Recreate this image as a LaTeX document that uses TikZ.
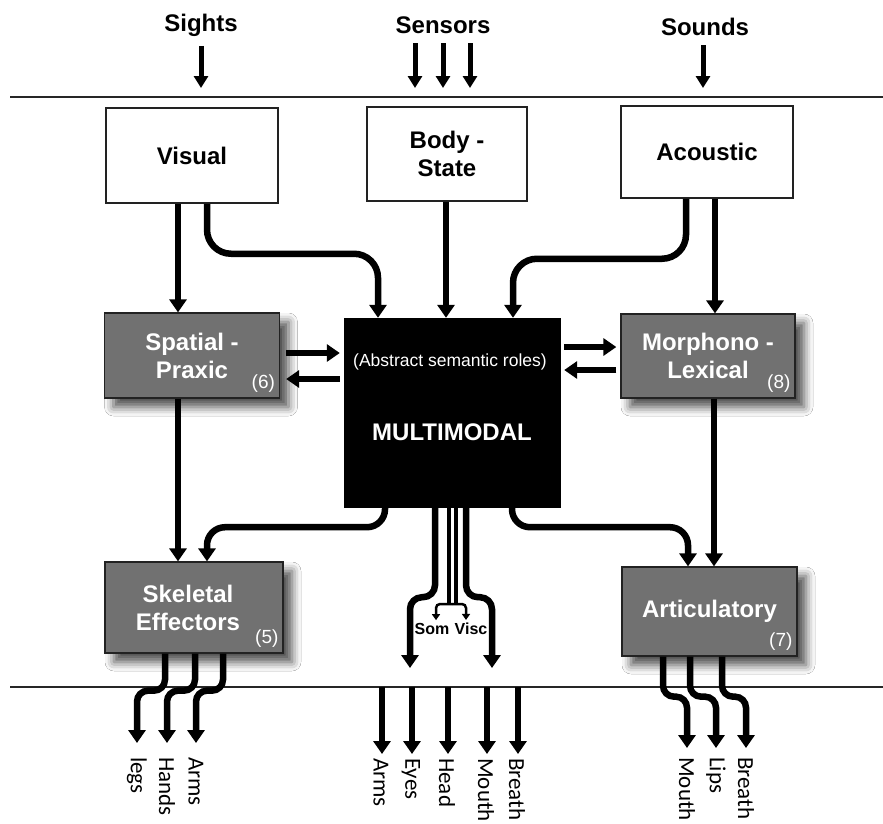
\documentclass[tikz,border=0pt]{standalone}
\usepackage{fontspec}
\setmainfont{Liberation Sans}
\newfontfamily\carl{Carlito}
\usetikzlibrary{arrows.meta,shadows.blur}
\definecolor{gfill}{HTML}{717171}
\definecolor{edge}{HTML}{222222}
\begin{document}
\begin{tikzpicture}[x=1pt,y=-1pt,
  lab/.style={font=\bfseries\fontsize{24}{28}\selectfont},
  wbox/.style={draw=edge, line width=1.5pt, fill=white, align=center, inner sep=0pt, font=\bfseries\fontsize{24}{28}\selectfont},
  gbox/.style={draw=edge, line width=1.3pt, fill=gfill, text=white, align=center, inner sep=0pt, font=\bfseries\fontsize{24}{28}\selectfont, blur shadow={shadow xshift=9pt, shadow yshift=-9pt, shadow blur radius=9pt, shadow opacity=70}},
  num/.style={text=white, font=\fontsize{19}{21}\selectfont, inner sep=0pt, anchor=south east},
  arr/.style={line width=6.5pt, -{Triangle[width=17pt,length=13pt]}},
  inarr/.style={line width=5pt, -{Triangle[width=14pt,length=12pt]}},
  brk/.style={line width=2.5pt, rounded corners=4pt, -{Triangle[width=8pt,length=6pt]}},
  outlab/.style={font=\carl\fontsize{23}{25}\selectfont, rotate=-90, anchor=west, inner sep=2pt},
  rule/.style={line width=1.8pt, draw=black!85}
]
\fill[white] (0,0) rectangle (883,823);
\useasboundingbox (0,0) rectangle (883,823);

% rules
\coordinate (rl1) at (10,97); \coordinate (rr1) at (883,97);
\coordinate (rl2) at (10,687); \coordinate (rr2) at (883,687);
\draw[rule] (rl1) -- (rr1);
\draw[rule] (rl2) -- (rr2);

% top labels and inputs
\node[lab] (sights) at (201,25) {Sights};
\node[lab] (sensors) at (443,25) {Sensors};
\node[lab] (sounds) at (705,27) {Sounds};
\coordinate (tsi) at (201,88);
\coordinate (tse1) at (415,88);
\coordinate (tse2) at (443,88);
\coordinate (tse3) at (470,88);
\coordinate (tso) at (703,88);
\draw[inarr, shorten <=6pt] (sights.south -| tsi) -- (tsi);
\draw[inarr, shorten <=6pt] (sensors.south -| tse1) -- (tse1);
\draw[inarr, shorten <=6pt] (sensors.south -| tse2) -- (tse2);
\draw[inarr, shorten <=6pt] (sensors.south -| tse3) -- (tse3);
\draw[inarr, shorten <=6pt] (sounds.south -| tso) -- (tso);

% boxes
\node[wbox, minimum width=172pt, minimum height=95pt] (vis) at (192,155.5) {Visual};
\node[wbox, minimum width=160pt, minimum height=94pt] (body) at (447,154) {Body -\\State};
\node[wbox, minimum width=172pt, minimum height=92pt] (acou) at (707,152) {Acoustic};
\node[gbox, minimum width=175pt, minimum height=85pt] (spat) at (192,355.5) {Spatial -\\Praxic};
\node[gbox, minimum width=174pt, minimum height=84pt] (morph) at (708,356) {Morphono -\\Lexical};
\node[gbox, minimum width=178pt, minimum height=91pt] (skel) at (194,607.5) {\hspace*{-12pt}Skeletal\\\hspace*{-12pt}Effectors};
\node[gbox, minimum width=175pt, minimum height=89pt] (artic) at (709.5,611.5) {Articulatory};
\node[draw=black, fill=black, minimum width=216pt, minimum height=189pt, inner sep=0pt] (multi) at (452,412.5) {};
\node[text=white, font=\fontsize{17.5}{20}\selectfont] (absr) at (450,362) {(Abstract semantic roles)};
\node[text=white, font=\bfseries\fontsize{24}{28}\selectfont] (mm) at (452,432) {MULTIMODAL};

\node[num] (n6) at ([xshift=-5pt,yshift=6pt]spat.south east) {(6)};
\node[num] (n8) at ([xshift=-5pt,yshift=6pt]morph.south east) {(8)};
\node[num] (n5) at ([xshift=-5pt,yshift=6pt]skel.south east) {(5)};
\node[num] (n7) at ([xshift=-5pt,yshift=6pt]artic.south east) {(7)};

% upper connectors
\draw[arr] ([xshift=-14pt]vis.south) -- ([xshift=-14pt]spat.north);
\draw[arr, rounded corners=24pt] ([xshift=15pt]vis.south) -- ++(0,50) -| ([xshift=-74pt]multi.north);
\draw[arr] ([xshift=-1pt]body.south) -- ([xshift=-6pt]multi.north);
\draw[arr, rounded corners=24pt] ([xshift=-21pt]acou.south) -- ++(0,60) -| ([xshift=61pt]multi.north);
\draw[arr] ([xshift=8pt]acou.south) -- ([xshift=7pt]morph.north);

% side arrows
\draw[arr, shorten <=6pt, shorten >=4pt] ([yshift=2.5pt]spat.east) -- ([yshift=2.5pt]spat.east -| multi.west);
\draw[arr, shorten <=4pt, shorten >=6pt] ([yshift=-23.5pt]spat.east -| multi.west) -- ([yshift=-23.5pt]spat.east);
\draw[arr, shorten <=4pt, shorten >=4pt] ([yshift=9pt]morph.west -| multi.east) -- ([yshift=9pt]morph.west);
\draw[arr, shorten <=4pt, shorten >=4pt] ([yshift=-14pt]morph.west) -- ([yshift=-14pt]morph.west -| multi.east);

% lower connectors
\draw[arr] ([xshift=-14pt]spat.south) -- ([xshift=-16pt]skel.north);
\draw[arr, rounded corners=18pt] ([xshift=-67pt]multi.south) -- ++(0,20) -| ([xshift=13pt]skel.north);
\draw[arr, rounded corners=18pt] ([xshift=60pt]multi.south) -- ++(0,20) -| ([xshift=-21.5pt]artic.north);
\draw[arr] ([xshift=6pt]morph.south) -- ([xshift=4.5pt]artic.north);

% multimodal outputs
\coordinate (mo1) at (410,668);
\coordinate (mo2) at (492,668);
\draw[arr, rounded corners=12pt] ([xshift=-17pt]multi.south) -- ++(0,90) -| (mo1);
\draw[arr, rounded corners=12pt] ([xshift=14pt]multi.south) -- ++(0,90) -| (mo2);
\coordinate (br) at (452,604);
\node[font=\bfseries\fontsize{16}{18}\selectfont, inner sep=1pt] (som) at (432,629) {Som};
\node[font=\bfseries\fontsize{16}{18}\selectfont, inner sep=1pt] (visc) at (471,629) {Visc};
\draw[line width=4pt] ([xshift=-3.5pt]multi.south) -- ([xshift=-3.5pt]multi.south |- br);
\draw[line width=4pt] ([xshift=3.5pt]multi.south) -- ([xshift=3.5pt]multi.south |- br);
\draw[brk] (br) -| ([xshift=4pt,yshift=2pt]som.north);
\draw[brk] (br) -| ([xshift=-5pt,yshift=2pt]visc.north);

% bottom centre outputs
\coordinate (bc1) at (382,687);
\coordinate (bc2) at (412,687);
\coordinate (bc3) at (448,687);
\coordinate (bc4) at (487,687);
\coordinate (bc5) at (518,687);
\node[outlab] (oArms) at (381,756) {Arms};
\node[outlab] (oEyes) at (411,756) {Eyes};
\node[outlab] (oHead) at (447,756) {Head};
\node[outlab] (oMouth) at (486,756) {Mouth};
\node[outlab] (oBreath) at (517,756) {Breath};
\draw[arr, shorten >=2pt] (bc1) -- (bc1 |- oArms.west);
\draw[arr, shorten >=2pt] (bc2) -- (bc2 |- oEyes.west);
\draw[arr, shorten >=2pt] (bc3) -- (bc3 |- oHead.west);
\draw[arr, shorten >=2pt] (bc4) -- (bc4 |- oMouth.west);
\draw[arr, shorten >=2pt] (bc5) -- (bc5 |- oBreath.west);

% skeletal outputs
\node[outlab] (oLegs) at (137,755) {legs};
\node[outlab] (oHands) at (167,755) {Hands};
\node[outlab] (oArmsS) at (196,755) {Arms};
\draw[arr, rounded corners=11pt, shorten >=12pt] ([xshift=-29pt]skel.south) -- ++(0,37) -| (oLegs.west);
\draw[arr, rounded corners=11pt, shorten >=12pt] ([xshift=1pt]skel.south) -- ++(0,37) -| (oHands.west);
\draw[arr, rounded corners=11pt, shorten >=12pt] ([xshift=29pt]skel.south) -- ++(0,37) -| (oArmsS.west);

% articulatory outputs
\node[outlab] (oMouthA) at (687,755) {Mouth};
\node[outlab] (oLips) at (716,755) {Lips};
\node[outlab] (oBreathA) at (746,755) {Breath};
\draw[arr, rounded corners=11pt, shorten >=7pt] ([xshift=-46.5pt]artic.south) -- ++(0,40) -| (oMouthA.west);
\draw[arr, rounded corners=11pt, shorten >=7pt] ([xshift=-19.5pt]artic.south) -- ++(0,40) -| (oLips.west);
\draw[arr, rounded corners=11pt, shorten >=7pt] ([xshift=12.5pt]artic.south) -- ++(0,40) -| (oBreathA.west);
\end{tikzpicture}
\end{document}
